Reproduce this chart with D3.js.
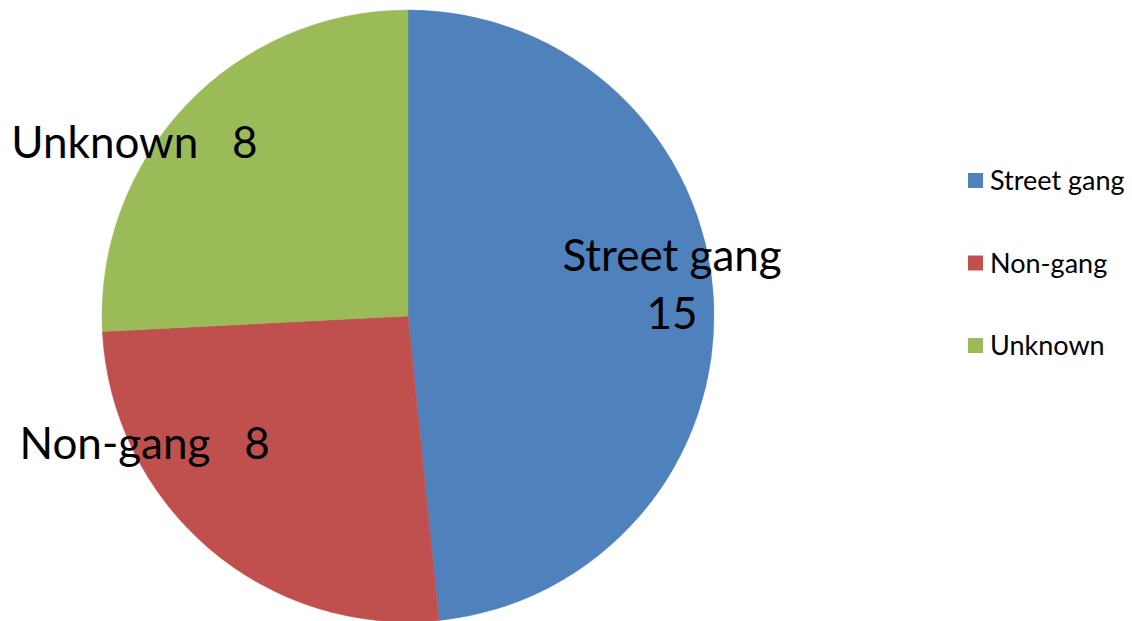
<!DOCTYPE html>
<html>
<head>
<meta charset="utf-8">
<script src="https://cdn.jsdelivr.net/npm/d3@7"></script>
<style>
  html, body { margin: 0; padding: 0; background: #fff; }
  svg { display: block; font-family: Lato, "Open Sans", sans-serif; }
</style>
</head>
<body>
<div id="chart"></div>
<script>
// Chart data
const categories = ['Street gang', 'Non-gang', 'Unknown'];
const values = [15, 8, 8];
const colours = ['#4F81BD', '#C0504D', '#9BBB59'];

const width = 1132;
const height = 621;
const cx = 408, cy = 316, radius = 306;

const svg = d3.select('#chart')
    .append('svg')
    .attr('width', width)
    .attr('height', height);

const data = categories.map((c, i) => ({ name: c, value: values[i], colour: colours[i] }));

const pie = d3.pie()
    .value(d => d.value)
    .sort(null);

const arc = d3.arc()
    .innerRadius(0)
    .outerRadius(radius);

const arcs = pie(data);

const g = svg.append('g')
    .attr('transform', `translate(${cx},${cy})`);

g.selectAll('path')
    .data(arcs)
    .join('path')
    .attr('d', arc)
    .attr('fill', d => d.data.colour)
    .attr('stroke', d => d.data.colour)
    .attr('stroke-width', 0.5);

// Data labels - Excel "best fit" placement, approximated from label arc
const labelArc = d3.arc().innerRadius(radius * 0.9).outerRadius(radius * 0.9);
const labelShift = {
    'Street gang': [-11, -15],
    'Non-gang': [-84, -80],
    'Unknown': [-74, 18]
};

arcs.forEach(d => {
    const [x, y] = labelArc.centroid(d);
    const [sx, sy] = labelShift[d.data.name];
    const t = g.append('text')
        .attr('text-anchor', 'middle')
        .attr('font-size', 44)
        .attr('fill', '#000');
    if (d.data.name === 'Street gang') {
        t.append('tspan').attr('x', x + sx).attr('y', y + sy - 16).text(d.data.name);
        t.append('tspan').attr('x', x + sx).attr('y', y + sy + 42).text(d.data.value);
    } else {
        t.attr('x', x + sx).attr('y', y + sy + 14)
            .attr('xml:space', 'preserve')
            .text(`${d.data.name}   ${d.data.value}`);
    }
});

// Legend
const legend = svg.append('g')
    .attr('transform', 'translate(968,181)');

const item = legend.selectAll('g')
    .data(data)
    .join('g')
    .attr('transform', (d, i) => `translate(0,${i * 82.5})`);

item.append('rect')
    .attr('x', 0)
    .attr('y', -8)
    .attr('width', 15)
    .attr('height', 15)
    .attr('fill', d => d.colour);

item.append('text')
    .attr('x', 22)
    .attr('y', 0)
    .attr('dy', '0.35em')
    .attr('font-size', 27)
    .attr('fill', '#000')
    .text(d => d.name);
</script>
</body>
</html>
